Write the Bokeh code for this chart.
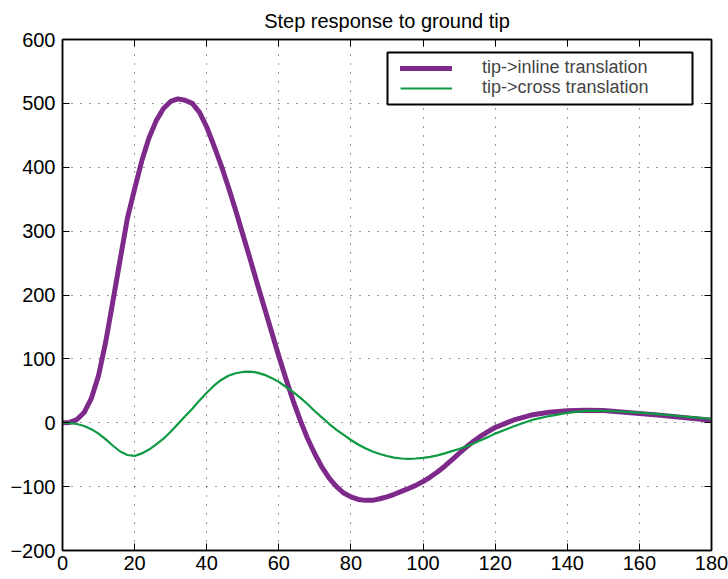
from bokeh.plotting import figure
from bokeh.models import LinearAxis, FixedTicker, Legend, LegendItem, BoxAnnotation
from bokeh.embed import file_html
from bokeh.resources import INLINE

# time samples
t = [0, 2, 4, 6, 8, 10, 12, 14, 16, 18, 20, 22, 24, 26, 28, 30, 32, 34, 36, 38,
     40, 42, 44, 46, 48, 50, 52, 54, 56, 58, 60, 62, 64, 66, 68, 70, 72, 74, 76, 78,
     80, 82, 84, 86, 88, 90, 92, 94, 96, 98, 100, 102, 104, 106, 108, 110, 112, 114,
     116, 118, 120, 125, 130, 135, 140, 145, 150, 155, 160, 165, 170, 175, 180]

# tip -> inline translation
inline_translation = [
    0, 0.5, 5, 16, 38, 74, 127, 191, 256, 320, 366, 410, 446, 473, 492, 503, 507, 505,
    500, 486, 463, 434, 403, 369, 333, 295, 257, 218, 180, 142, 104, 68, 34, 3, -25,
    -49, -70, -87, -100, -110, -116, -120, -121.5, -121.5, -119, -116, -112, -107.5,
    -103, -98, -92, -85, -77, -68, -58, -48, -38, -29, -21, -14, -7.5,
    4, 12, 16.5, 18.8, 19.6, 19, 17, 14.6, 12, 9.3, 6.5, 4]

# tip -> cross translation
cross_translation = [
    0, -0.5, -2, -5, -10, -17, -26, -36, -45, -50.5, -52, -48, -42, -34, -25, -14, -2,
    10, 22, 35, 47, 58, 67, 73.5, 77.5, 79.5, 80, 78.5, 75, 70, 64, 56, 48, 39, 29, 18,
    8, -2, -11, -19, -27, -34, -40, -45, -49, -52, -54.5, -56, -56.5, -56, -55, -53.5,
    -51, -48, -44.5, -41, -37, -32.5, -27.5, -22.5, -17,
    -6, 4, 10.5, 15.5, 18.5, 18.8, 17.5, 16, 13.5, 11, 8.5, 6]

x_ticks = [0, 20, 40, 60, 80, 100, 120, 140, 160, 180]
y_ticks = [-200, -100, 0, 100, 200, 300, 400, 500, 600]

series_labels = ["tip->inline translation", "tip->cross translation"]

FONT = "Liberation Sans"

p = figure(frame_width=649, frame_height=511,
           x_range=(0, 180), y_range=(-200, 600),
           output_backend="svg", toolbar_location=None,
           min_border_left=62, min_border_right=17,
           min_border_top=39, min_border_bottom=29,
           title="Step response to ground tip")

p.title.align = "center"
p.title.vertical_align = "middle"
p.title.text_font = FONT
p.title.text_font_style = "normal"
p.title.text_font_size = "20px"
p.title.text_color = "black"
p.title.standoff = 14

p.outline_line_color = "black"
p.outline_line_width = 1.5

# boxed frame: tick-only axes on top and right
p.add_layout(LinearAxis(), "above")
p.add_layout(LinearAxis(), "right")

for ax in p.xaxis:
    ax.ticker = FixedTicker(ticks=x_ticks)
for ax in p.yaxis:
    ax.ticker = FixedTicker(ticks=y_ticks)

for ax in list(p.xaxis) + list(p.yaxis):
    ax.axis_line_color = "black"
    ax.axis_line_width = 1.5
    ax.major_tick_in = 7
    ax.major_tick_out = 0
    ax.major_tick_line_color = "black"
    ax.minor_tick_line_color = None
    ax.major_label_text_font = FONT
    ax.major_label_text_font_size = "20px"
    ax.major_label_text_color = "black"

p.xaxis[0].major_label_standoff = 7
p.yaxis[0].major_label_standoff = 7
for ax in (p.above[0], p.right[0]):
    ax.major_label_text_font_size = "0px"
    ax.major_label_text_color = None
    ax.major_label_standoff = 0

p.xgrid.grid_line_color = "#333333"
p.ygrid.grid_line_color = "#333333"
p.xgrid.grid_line_dash = "1 8"
p.ygrid.grid_line_dash = "1 8"
p.xgrid.grid_line_width = 1
p.ygrid.grid_line_width = 1

r_inline = p.line(t, inline_translation, line_color="#7E2A8A", line_width=5,
                  line_join="round", line_cap="round")
r_cross = p.line(t, cross_translation, line_color="#0E9A42", line_width=2.2,
                 line_join="round")

# legend frame
legend_box = BoxAnnotation(left=387, right=692, top=52, bottom=104,
                           left_units="canvas", right_units="canvas",
                           top_units="canvas", bottom_units="canvas",
                           fill_color="white", fill_alpha=1,
                           line_color="black", line_alpha=1, line_width=2)
p.add_layout(legend_box)

# one legend per row so the rows sit close together
row_bottoms = [472, 452]
for label, renderer, y0 in zip(series_labels, [r_inline, r_cross], row_bottoms):
    lg = Legend(items=[LegendItem(label=label, renderers=[renderer])],
                location=(338, y0))
    lg.border_line_color = None
    lg.background_fill_alpha = 0
    lg.padding = 0
    lg.margin = 0
    lg.spacing = 0
    lg.glyph_width = 52
    lg.glyph_height = 20
    lg.label_height = 20
    lg.label_standoff = 30
    lg.label_text_font = FONT
    lg.label_text_font_size = "18px"
    p.add_layout(lg)

open("out.html", "w").write(file_html(p, INLINE))
